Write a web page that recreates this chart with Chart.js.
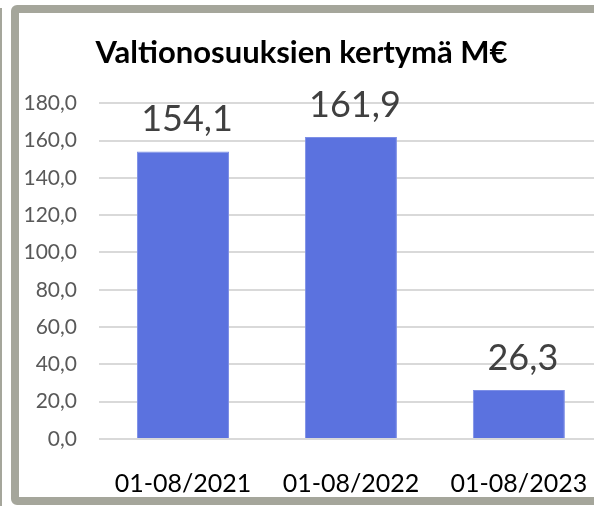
<!DOCTYPE html>
<html>
<head>
<meta charset="utf-8">
<script src="https://cdn.jsdelivr.net/npm/chart.js@4"></script>
<style>
  html, body { margin: 0; padding: 0; background: #fff; overflow: hidden; }
  #wrap { position: relative; width: 594px; height: 506px; overflow: hidden; }
  .edge { position: absolute; left: 0; top: 8px; width: 2px; height: 498px; background: #A5A69B; }
  .frame { position: absolute; left: 11px; top: 5px; width: 580px; height: 484px;
           border: 8px solid #A5A69B; border-radius: 6px; background: #fff; }
  #holder { position: absolute; left: 0; top: 0; width: 620px; height: 506px; }
</style>
</head>
<body>
<div id="wrap">
  <div class="edge"></div>
  <div class="frame"></div>
  <div id="holder"><canvas id="myChart"></canvas></div>
</div>
<script>
var kaudet = ['01-08/2021', '01-08/2022', '01-08/2023'];
var kertyma = [154.1, 161.9, 26.3];
var yMin = 0;
var yMax = 180;
var yAskel = 20;

function pilkku(v, d) {
  return v.toFixed(d).replace('.', ',');
}

// arvot palkkien ylle
var arvoPlugin = {
  id: 'arvot',
  afterDatasetsDraw: function(chart) {
    var ctx = chart.ctx;
    var meta = chart.getDatasetMeta(0);
    ctx.save();
    ctx.font = '36px Lato';
    ctx.fillStyle = '#404040';
    ctx.textAlign = 'center';
    ctx.textBaseline = 'middle';
    meta.data.forEach(function(bar, i) {
      ctx.fillText(pilkku(kertyma[i], 1), bar.x + 4, bar.y - 32);
    });
    ctx.restore();
  }
};

var ctx = document.getElementById('myChart').getContext('2d');
var myChart = new Chart(ctx, {
  type: 'bar',
  data: {
    labels: kaudet,
    datasets: [{
      data: kertyma,
      backgroundColor: '#5B72DF',
      borderColor: '#7D8FE6',
      borderWidth: 1,
      categoryPercentage: 1,
      barPercentage: 0.548
    }]
  },
  options: {
    responsive: true,
    maintainAspectRatio: false,
    animation: false,
    layout: { padding: { left: 0, right: 17, top: 0, bottom: 0 } },
    plugins: {
      legend: { display: false },
      tooltip: { enabled: false },
      title: {
        display: true,
        text: 'Valtionosuuksien kertymä M€',
        color: '#000',
        font: { family: 'Lato', size: 31, weight: 'bold' },
        padding: { top: 34, bottom: 32 }
      }
    },
    scales: {
      x: {
        grid: { display: false, drawTicks: false },
        border: { display: false },
        ticks: { color: '#000', padding: 30, font: { family: 'Lato', size: 25 } },
        afterFit: function(s) { s.height = 67; }
      },
      y: {
        min: yMin,
        max: yMax,
        grid: { color: '#D9D9D9', lineWidth: 2, drawTicks: false },
        border: { display: false },
        ticks: {
          stepSize: yAskel,
          color: '#595959',
          padding: 22,
          font: { family: 'Lato', size: 21 },
          callback: function(v) { return pilkku(v, 1); }
        },
        afterFit: function(s) { s.width = 99; }
      }
    }
  },
  plugins: [arvoPlugin]
});
</script>
</body>
</html>
